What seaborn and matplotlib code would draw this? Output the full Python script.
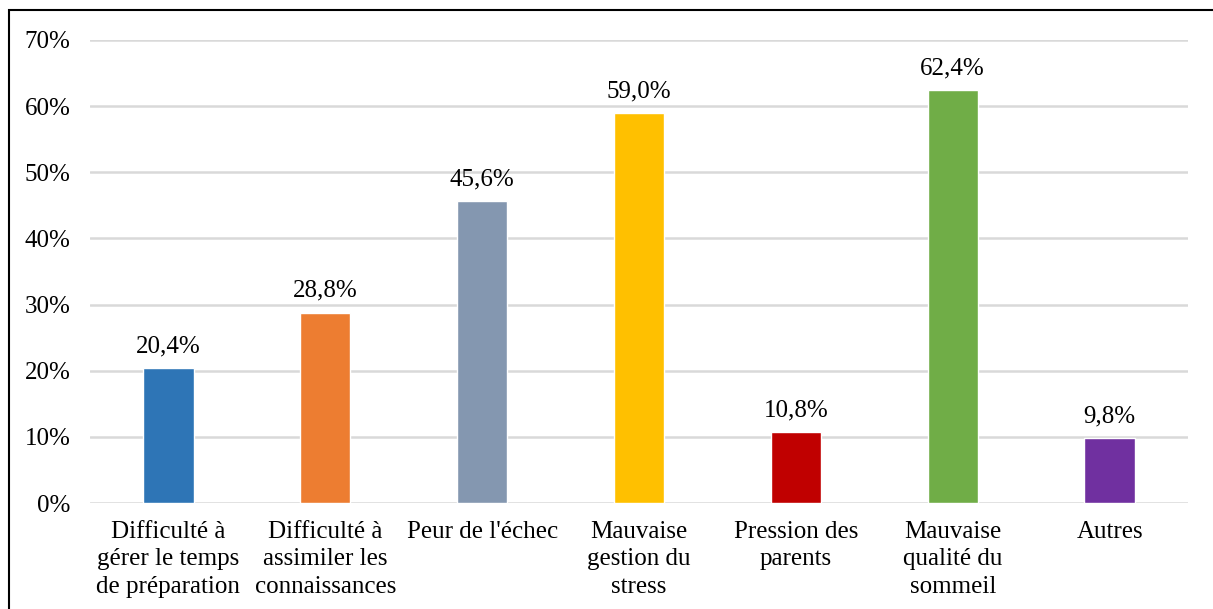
import matplotlib
matplotlib.use("Agg")
import matplotlib.pyplot as plt
import seaborn as sns
import pandas as pd
from matplotlib.patches import Rectangle

categories = ["Difficulté à\ngérer le temps\nde préparation",
              "Difficulté à\nassimiler les\nconnaissances",
              "Peur de l'échec",
              "Mauvaise\ngestion du\nstress",
              "Pression des\nparents",
              "Mauvaise\nqualité du\nsommeil",
              "Autres"]
values = [20.4, 28.8, 45.6, 59.0, 10.8, 62.4, 9.8]
colors = ["#2E75B6", "#ED7D31", "#8497B0", "#FFC000", "#C00000", "#70AD47", "#7030A0"]
yticks = [0, 10, 20, 30, 40, 50, 60, 70]

sns.set_theme(style="white")
plt.rcParams['font.family'] = ['Liberation Serif', 'DejaVu Serif']
plt.rcParams['text.color'] = 'black'
plt.rcParams['xtick.color'] = 'black'
plt.rcParams['ytick.color'] = 'black'

df = pd.DataFrame({"cat": categories, "val": values})

FS = 18
fig = plt.figure(figsize=(12.13, 6.09), dpi=100)
ax = fig.add_axes([90/1213, 1-503/609, 1098/1213, 463/609])
sns.barplot(data=df, x="cat", y="val", hue="cat", palette=colors, legend=False,
            width=0.32, ax=ax, saturation=1)

ax.set_ylim(0, 70)
ax.set_xlim(-0.5, len(categories)-0.5)
ax.set_yticks(yticks)
ax.set_yticklabels([f"{t}%" for t in yticks], fontsize=FS)
ax.set_xlabel("")
ax.set_ylabel("")
ax.tick_params(axis='x', labelsize=FS, length=0, pad=13, labelcolor='black')
ax.tick_params(axis='y', length=0, pad=14, labelcolor='black')
for lab in ax.get_xticklabels():
    lab.set_linespacing(1.32)
ax.yaxis.grid(True, color="#D9D9D9", linewidth=1.8)
ax.set_axisbelow(True)
for s in ax.spines.values():
    s.set_visible(False)

for i, v in enumerate(values):
    ax.text(i, v + 1.6, f"{v:.1f}%".replace(".", ","), ha="center", va="bottom",
            fontsize=FS, color="black")

fig.patches.append(Rectangle((9/1213, -0.1), 1.2, 1 - 10/609 + 0.1, transform=fig.transFigure,
                             fill=False, edgecolor="black", linewidth=1.5, zorder=10))

fig.savefig("out.png", dpi=100)
